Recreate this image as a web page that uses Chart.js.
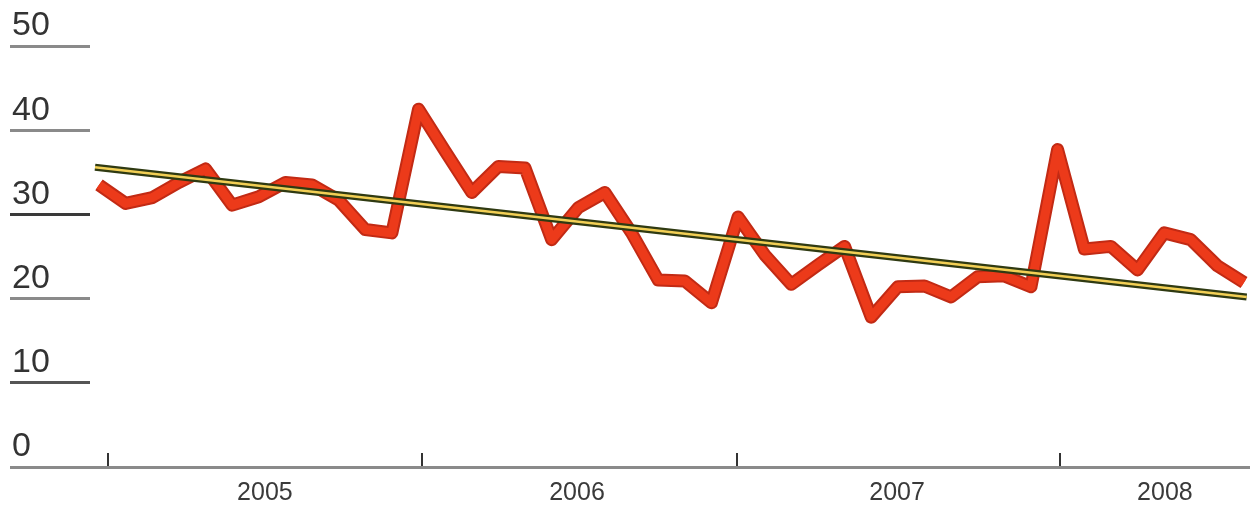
<!DOCTYPE html>
<html>
<head>
<meta charset="utf-8">
<script src="https://cdn.jsdelivr.net/npm/chart.js@4/dist/chart.umd.min.js"></script>
<style>
  html, body { margin: 0; padding: 0; background: #fff; }
  #wrap { width: 1250px; height: 506px; position: relative; }
</style>
</head>
<body>
<div id="wrap"><canvas id="trendChart"></canvas></div>
<script>
// monthly points, Dec 2004 .. Jul 2008
const months = [
  'Dec 2004',
  'Jan 2005', 'Feb 2005', 'Mar 2005', 'Apr 2005', 'May 2005', 'Jun 2005',
  'Jul 2005', 'Aug 2005', 'Sep 2005', 'Oct 2005', 'Nov 2005', 'Dec 2005',
  'Jan 2006', 'Feb 2006', 'Mar 2006', 'Apr 2006', 'May 2006', 'Jun 2006',
  'Jul 2006', 'Aug 2006', 'Sep 2006', 'Oct 2006', 'Nov 2006', 'Dec 2006',
  'Jan 2007', 'Feb 2007', 'Mar 2007', 'Apr 2007', 'May 2007', 'Jun 2007',
  'Jul 2007', 'Aug 2007', 'Sep 2007', 'Oct 2007', 'Nov 2007', 'Dec 2007',
  'Jan 2008', 'Feb 2008', 'Mar 2008', 'Apr 2008', 'May 2008', 'Jun 2008', 'Jul 2008'
];
const values = [
  33.5,
  31.3, 32.0, 33.8, 35.4, 31.1, 32.1, 33.8, 33.5, 31.7, 28.2, 27.8, 42.5,
  37.5, 32.6, 35.7, 35.5, 27.0, 30.8, 32.6, 27.8, 22.2, 22.1, 19.5, 29.7,
  25.2, 21.7, 24.0, 26.2, 17.8, 21.4, 21.5, 20.2, 22.6, 22.7, 21.4, 37.7,
  25.9, 26.2, 23.4, 27.8, 27.0, 23.9, 21.9
];
// linear trend, start and end
const trendAt = [-0.15, 43.1];
const trendValues = [35.6, 20.2];

const yTicks = [0, 10, 20, 30, 40, 50];
const yearLabels = ['2005', '2006', '2007', '2008'];
const yearTickAt = [0.34, 12.13, 23.96, 36.09];
const yearLabelAt = [6.23, 17.95, 29.97, 40.03];

const xMin = -0.338;
const xMax = 43.225;

const series = values.map((v, i) => ({ x: i, y: v }));
const trend = trendAt.map((x, i) => ({ x: x, y: trendValues[i] }));

const lineBase = {
  pointRadius: 0,
  pointHoverRadius: 0,
  fill: false,
  tension: 0,
  clip: false,
  borderJoinStyle: 'round',
  borderCapStyle: 'butt'
};

const ctx = document.getElementById('trendChart').getContext('2d');
new Chart(ctx, {
  type: 'line',
  data: {
    datasets: [
      Object.assign({}, lineBase, { data: trend, borderColor: '#f2cf55', borderWidth: 2.5, order: 1 }),
      Object.assign({}, lineBase, { data: trend, borderColor: '#2f3a12', borderWidth: 7, order: 2 }),
      Object.assign({}, lineBase, { data: series, borderColor: '#ec3a1a', borderWidth: 9, order: 3 }),
      Object.assign({}, lineBase, { data: series, borderColor: '#c22a14', borderWidth: 13, order: 4 })
    ]
  },
  options: {
    responsive: true,
    maintainAspectRatio: false,
    animation: false,
    events: [],
    layout: { padding: { left: 12, top: 46, right: 0, bottom: 0 } },
    plugins: {
      legend: { display: false },
      tooltip: { enabled: false }
    },
    scales: {
      x: {
        type: 'linear',
        min: xMin,
        max: xMax,
        position: 'bottom',
        weight: 0,
        afterBuildTicks: (scale) => {
          scale.ticks = yearTickAt.map(v => ({ value: v }));
        },
        afterFit: (scale) => { scale.height = 0; },
        ticks: { display: false },
        grid: {
          drawOnChartArea: false,
          drawTicks: true,
          tickLength: -14,
          tickColor: '#333',
          tickWidth: 2,
          color: '#333',
          lineWidth: 2
        },
        border: { display: true, color: '#8a8a8a', width: 3 }
      },
      years: {
        type: 'linear',
        min: xMin,
        max: xMax,
        position: 'bottom',
        weight: 1,
        afterBuildTicks: (scale) => {
          scale.ticks = yearLabelAt.map(v => ({ value: v }));
        },
        afterFit: (scale) => { scale.height = 39; },
        ticks: {
          autoSkip: false,
          maxRotation: 0,
          padding: 14,
          color: '#3a3a3a',
          font: { family: "'Liberation Sans Narrow', 'Liberation Sans', Arial, sans-serif", size: 25, lineHeight: 1 },
          callback: (v, i) => yearLabels[i]
        },
        grid: { display: false, drawTicks: false },
        border: { display: false }
      },
      y: {
        type: 'linear',
        min: 0,
        max: 50,
        position: 'left',
        afterBuildTicks: (scale) => {
          scale.ticks = yTicks.map(v => ({ value: v }));
        },
        afterFit: (scale) => { scale.width = 78; },
        ticks: {
          crossAlign: 'far',
          labelOffset: -20,
          padding: 0,
          color: '#333',
          font: { family: "'Liberation Sans', Arial, sans-serif", size: 34 }
        },
        grid: {
          drawOnChartArea: false,
          drawTicks: true,
          tickLength: 80,
          lineWidth: 3,
          color: (c) => {
            const v = c.tick ? c.tick.value : 0;
            if (v === 30) return '#3a3a3a';
            if (v === 10) return '#555';
            return '#8a8a8a';
          }
        },
        border: { display: false }
      }
    }
  }
});
</script>
</body>
</html>
